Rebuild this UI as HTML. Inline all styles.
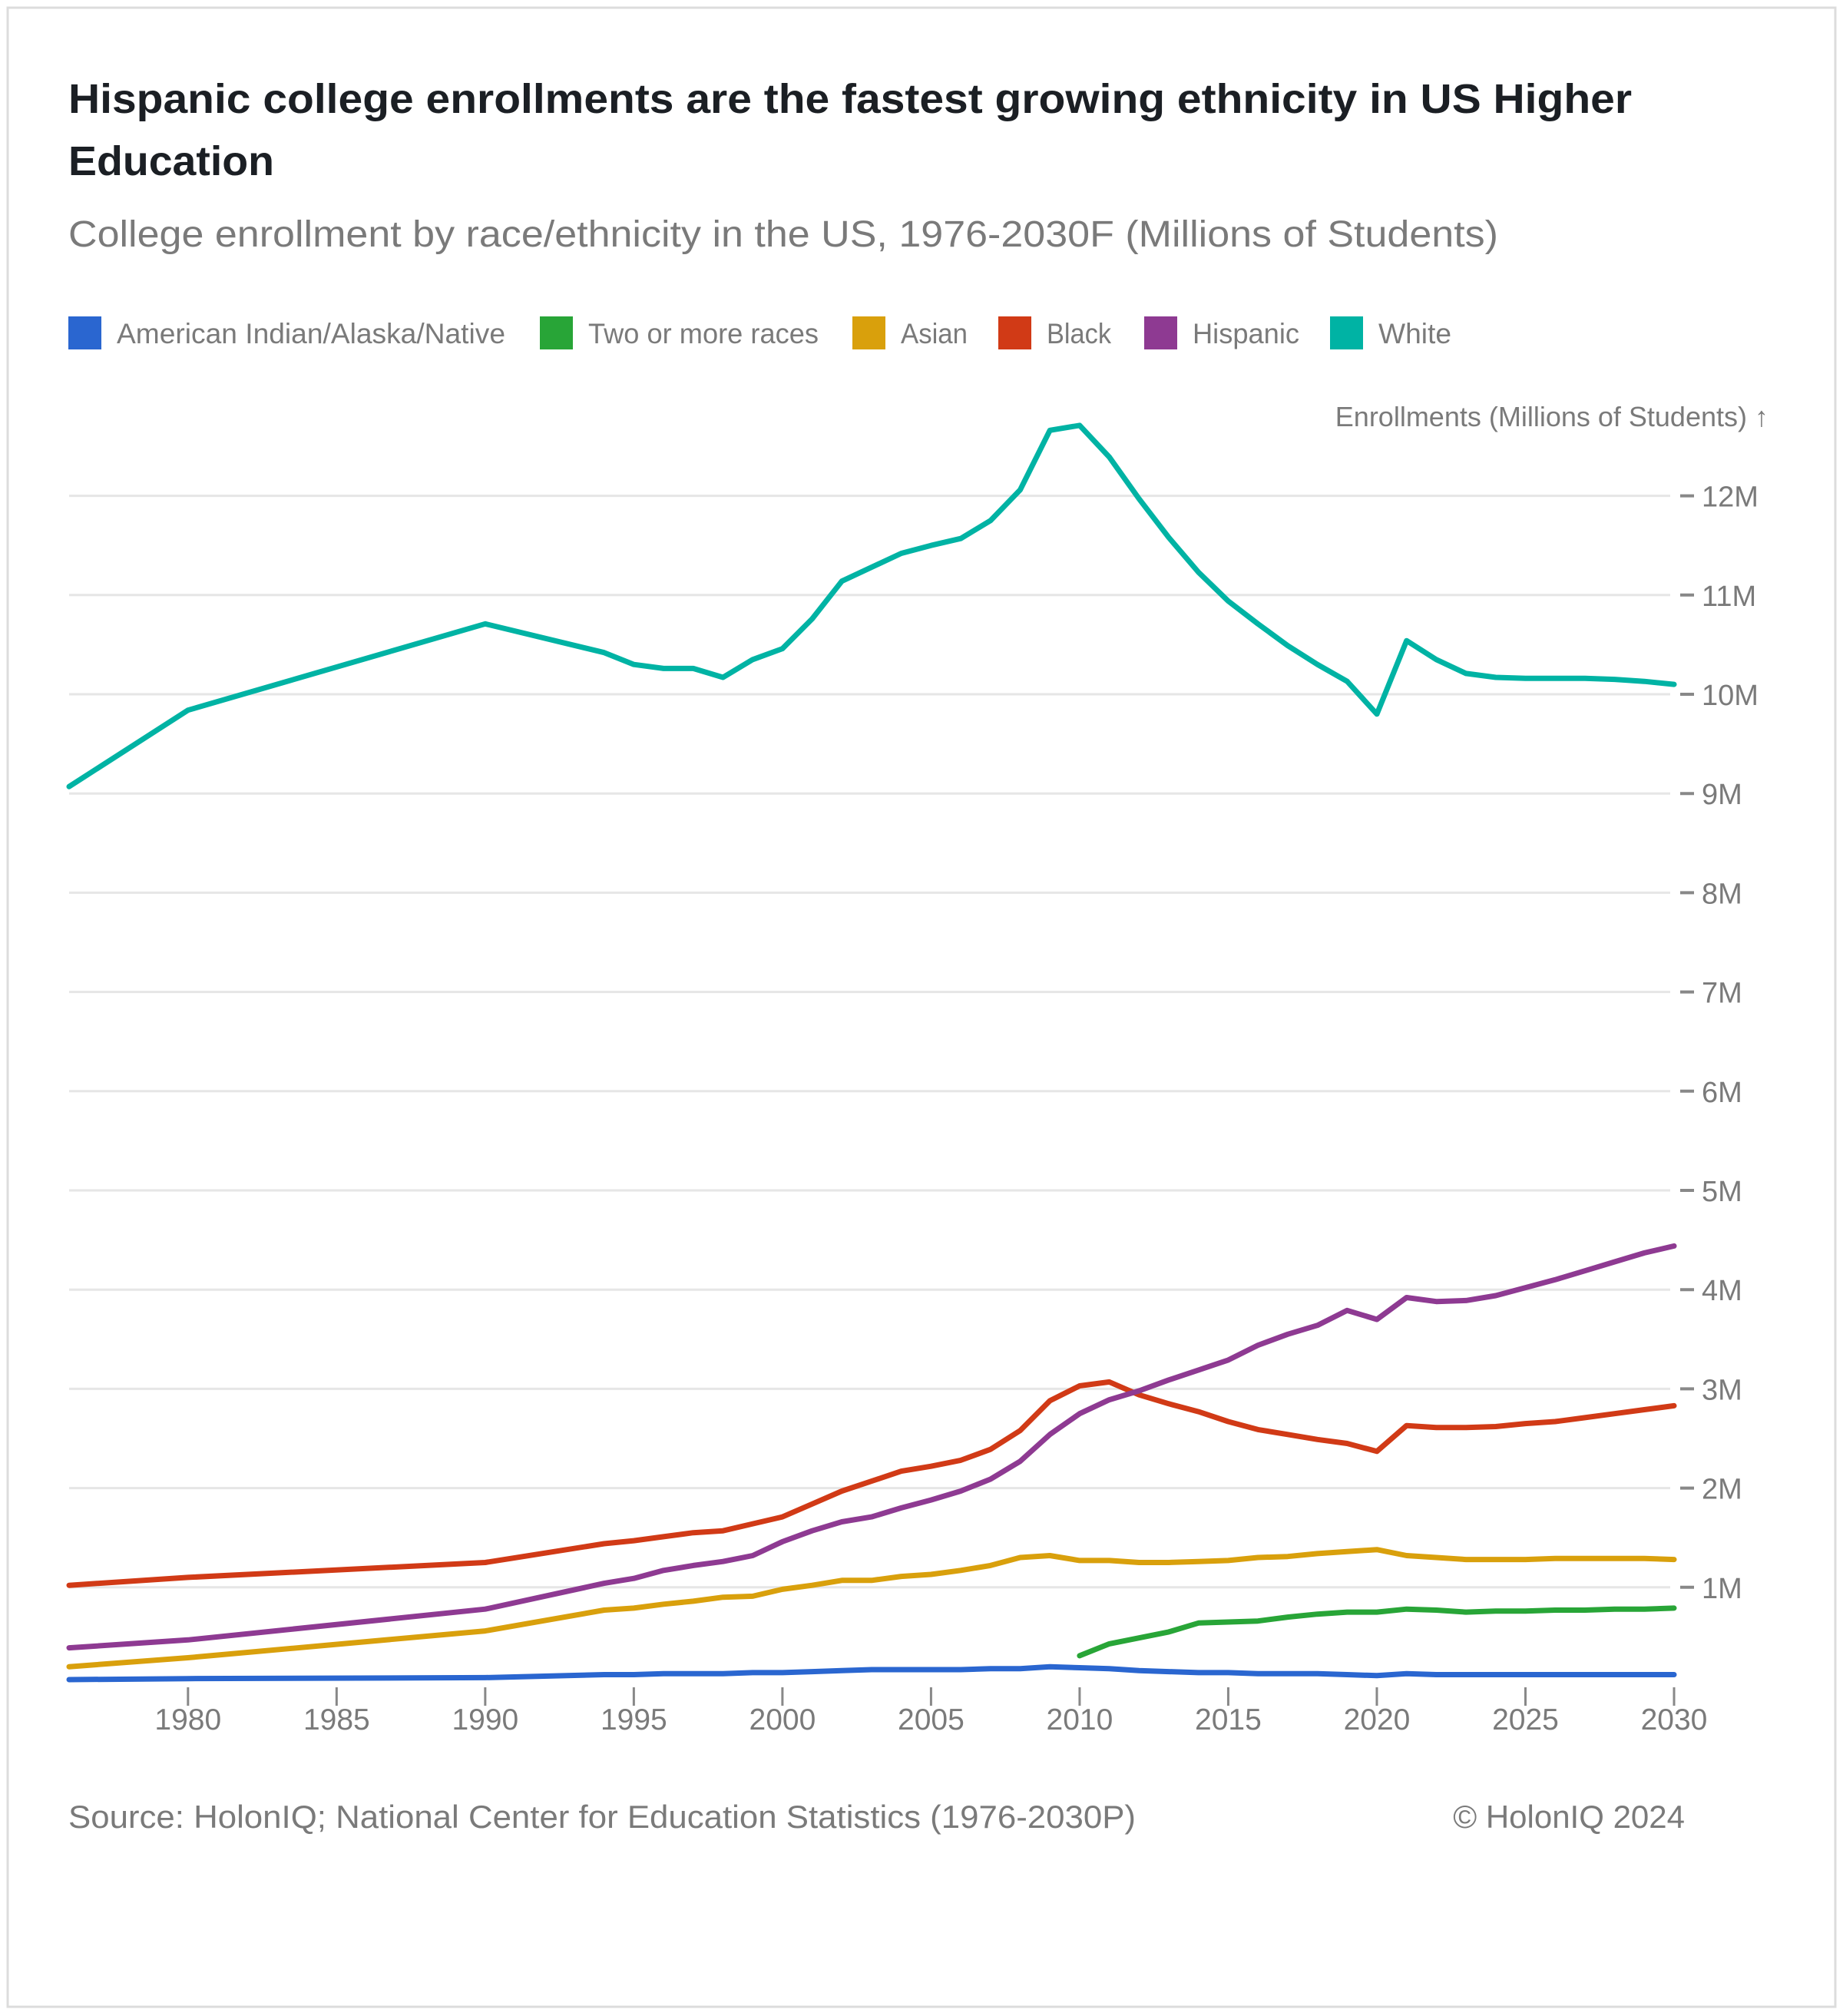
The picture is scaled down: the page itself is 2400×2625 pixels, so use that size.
<!DOCTYPE html>
<html><head><meta charset="utf-8"><style>
html,body{margin:0;padding:0;background:#fff;}
svg{display:block;font-family:"Liberation Sans",sans-serif;}
</style></head><body>
<svg id="chart" width="2400" height="2625" viewBox="0 0 2400 2625" xmlns="http://www.w3.org/2000/svg">
<rect x="10" y="10" width="2380" height="2603" fill="#fff" stroke="#dcdcdc" stroke-width="3"/>
<text x="89" y="147" font-size="54" font-weight="bold" fill="#1b1f24" textLength="2036" lengthAdjust="spacingAndGlyphs">Hispanic college enrollments are the fastest growing ethnicity in US Higher</text>
<text x="89" y="228" font-size="54" font-weight="bold" fill="#1b1f24" textLength="268" lengthAdjust="spacingAndGlyphs">Education</text>
<text x="89" y="321" font-size="48" fill="#7a7a7a" textLength="1862" lengthAdjust="spacingAndGlyphs">College enrollment by race/ethnicity in the US, 1976-2030F (Millions of Students)</text>
<g id="legend"></g>
<g id="grid"></g>
<g id="series"></g>
<text x="2303" y="555" font-size="36" fill="#7a7a7a" text-anchor="end">Enrollments (Millions of Students) ↑</text>
<text x="89" y="2380" font-size="42" fill="#7a7a7a" textLength="1390" lengthAdjust="spacingAndGlyphs">Source: HolonIQ; National Center for Education Statistics (1976-2030P)</text>
<text x="2194" y="2380" font-size="42" fill="#7a7a7a" text-anchor="end">© HolonIQ 2024</text>
</svg>
<script>
const years = [1976,1980,1990,1994,1995,1996,1997,1998,1999,2000,2001,2002,2003,2004,2005,2006,2007,2008,2009,2010,2011,2012,2013,2014,2015,2016,2017,2018,2019,2020,2021,2022,2023,2024,2025,2026,2027,2028,2029,2030];
const amIndian = [0.07,0.08,0.09,0.12,0.12,0.13,0.13,0.13,0.14,0.14,0.15,0.16,0.17,0.17,0.17,0.17,0.18,0.18,0.20,0.19,0.18,0.16,0.15,0.14,0.14,0.13,0.13,0.13,0.12,0.11,0.13,0.12,0.12,0.12,0.12,0.12,0.12,0.12,0.12,0.12];
const twoOrMore = [null,null,null,null,null,null,null,null,null,null,null,null,null,null,null,null,null,null,null,0.31,0.43,0.49,0.55,0.64,0.65,0.66,0.70,0.73,0.75,0.75,0.78,0.77,0.75,0.76,0.76,0.77,0.77,0.78,0.78,0.79];
const asian = [0.20,0.29,0.56,0.77,0.79,0.83,0.86,0.90,0.91,0.98,1.02,1.07,1.07,1.11,1.13,1.17,1.22,1.30,1.32,1.27,1.27,1.25,1.25,1.26,1.27,1.30,1.31,1.34,1.36,1.38,1.32,1.30,1.28,1.28,1.28,1.29,1.29,1.29,1.29,1.28];
const black = [1.02,1.10,1.25,1.44,1.47,1.51,1.55,1.57,1.64,1.71,1.84,1.97,2.07,2.17,2.22,2.28,2.39,2.58,2.88,3.03,3.07,2.94,2.85,2.77,2.67,2.59,2.54,2.49,2.45,2.37,2.63,2.61,2.61,2.62,2.65,2.67,2.71,2.75,2.79,2.83];
const hispanic = [0.39,0.47,0.78,1.04,1.09,1.17,1.22,1.26,1.32,1.46,1.57,1.66,1.71,1.80,1.88,1.97,2.09,2.27,2.54,2.75,2.89,2.98,3.09,3.19,3.29,3.44,3.55,3.64,3.79,3.70,3.92,3.88,3.89,3.94,4.02,4.10,4.19,4.28,4.37,4.44];
const white = [9.07,9.84,10.71,10.42,10.30,10.26,10.26,10.17,10.35,10.46,10.76,11.14,11.28,11.42,11.50,11.57,11.75,12.06,12.66,12.71,12.39,11.97,11.58,11.23,10.94,10.71,10.49,10.30,10.13,9.80,10.54,10.35,10.21,10.17,10.16,10.16,10.16,10.15,10.13,10.10];
const yTicks = [1,2,3,4,5,6,7,8,9,10,11,12];
const xTicks = [1980,1985,1990,1995,2000,2005,2010,2015,2020,2025,2030];
const legendLabels = ["American Indian/Alaska/Native","Two or more races","Asian","Black","Hispanic","White"];

const NS = "http://www.w3.org/2000/svg";
const X0 = 90, X1 = 2180, Y0 = 2196, PERM = 129.2;
function xs(y){ return X0 + (y - 1976) * (X1 - X0) / (2030 - 1976); }
function ys(v){ return Y0 - v * PERM; }
function mk(tag, attrs, parent){ const e = document.createElementNS(NS, tag); for (const k in attrs) e.setAttribute(k, attrs[k]); parent.appendChild(e); return e; }

const grid = document.getElementById('grid');
yTicks.forEach(t => {
  const y = ys(t);
  const gl = mk('line', {x1: X0, x2: 2175, y1: y, y2: y, stroke: '#e6e6e6', 'stroke-width': 3}, grid);
  
  
  const tk = mk('line', {x1: 2188, x2: 2206, y1: y, y2: y, stroke: '#888', 'stroke-width': 4}, grid);
  
  
  const lb = mk('text', {x: 2216, y: y + 14, 'font-size': 38, fill: '#7a7a7a'}, grid);
  lb.textContent = t + 'M';
  
  
});
xTicks.forEach(t => {
  const x = xs(t);
  const tk = mk('line', {x1: x, x2: x, y1: 2197, y2: 2221, stroke: '#888', 'stroke-width': 3}, grid);
  
  
  const lb = mk('text', {x: x, y: 2252, 'font-size': 39, fill: '#7a7a7a', 'text-anchor': 'middle'}, grid);
  lb.textContent = t;
  
  
});

const seriesList = [
  ['american-indian', amIndian, '#2a66d0'],
  ['two-or-more-races', twoOrMore, '#28a537'],
  ['asian', asian, '#d9a00c'],
  ['black', black, '#d13a16'],
  ['hispanic', hispanic, '#8e3a92'],
  ['white', white, '#00b3a4']
];
const sg = document.getElementById('series');
seriesList.forEach(s => {
  let d = '', started = false;
  s[1].forEach((v, i) => {
    if (v === null) { started = false; return; }
    d += (started ? 'L' : 'M') + xs(years[i]).toFixed(1) + ',' + ys(v).toFixed(1);
    started = true;
  });
  const p = mk('path', {d: d, fill: 'none', stroke: s[2], 'stroke-width': 7, 'stroke-linejoin': 'round', 'stroke-linecap': 'round'}, sg);
  
  
});

const lg = document.getElementById('legend');
const legX = [89, 703, 1110, 1300, 1490, 1732];
const legW = [506, 300, 87, 84, 139, 95];
legendLabels.forEach((name, i) => {
  const r = mk('rect', {x: legX[i], y: 412, width: 43, height: 43, fill: seriesList[i][2]}, lg);
  
  
  const t = mk('text', {x: legX[i] + 63, y: 447, 'font-size': 37, fill: '#7a7a7a', textLength: legW[i], lengthAdjust: 'spacingAndGlyphs'}, lg);
  t.textContent = name;
  
  
});
</script>
</body></html>
